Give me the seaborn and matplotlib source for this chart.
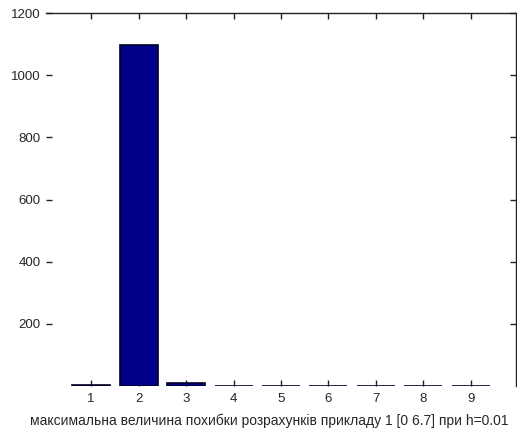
import matplotlib
matplotlib.use("Agg")
import matplotlib.pyplot as plt
import seaborn as sns
import pandas as pd

# Maximum computation error per step, example 1
steps = ["1", "2", "3", "4", "5", "6", "7", "8", "9"]
tick_labels = ["1", "2", "3", "4", "5", "6", "7", "8", "9"]
max_error = [4, 1097, 9, 1.5, 1.2, 1.2, 1.4, 1.4, 1.2]
y_ticks = [200, 400, 600, 800, 1000, 1200]
x_label = "максимальна величина похибки розрахунків прикладу 1 [0 6.7] при h=0.01"

sns.set_style("white")
plt.rcParams["font.family"] = ["Liberation Sans", "DejaVu Sans"]

df = pd.DataFrame({"step": steps, "error": max_error})

fig = plt.figure(figsize=(5.17, 4.30), dpi=100)
ax = fig.add_axes([46 / 517, 1 - 386 / 430, 470 / 517, 373 / 430])

sns.barplot(data=df, x="step", y="error", color="#00008B", saturation=1,
            width=0.8, edgecolor="#000028", linewidth=1.2, ax=ax)

ax.set_xlim(-0.95, 8.95)
ax.set_ylim(0, 1200)
ax.set_yticks(y_ticks)
ax.set_yticklabels([str(v) for v in y_ticks], fontsize=9.5)
ax.set_xticks(range(len(tick_labels)))
ax.set_xticklabels(tick_labels, fontsize=9.5)
ax.set_ylabel("")
ax.set_xlabel(x_label, fontsize=10)
ax.xaxis.set_label_coords(0.475, -0.075)

for side in ["left", "bottom"]:
    ax.spines[side].set_visible(False)
for side in ["top", "right"]:
    ax.spines[side].set_visible(True)
    ax.spines[side].set_color("#222222")
    ax.spines[side].set_linewidth(1.0)

ax.tick_params(axis="both", direction="in", length=4, width=1, color="#222222",
               top=True, right=True, bottom=True, left=True)
ax.tick_params(axis="x", pad=5)
ax.tick_params(axis="y", pad=4)

fig.savefig("out.png", dpi=100)
